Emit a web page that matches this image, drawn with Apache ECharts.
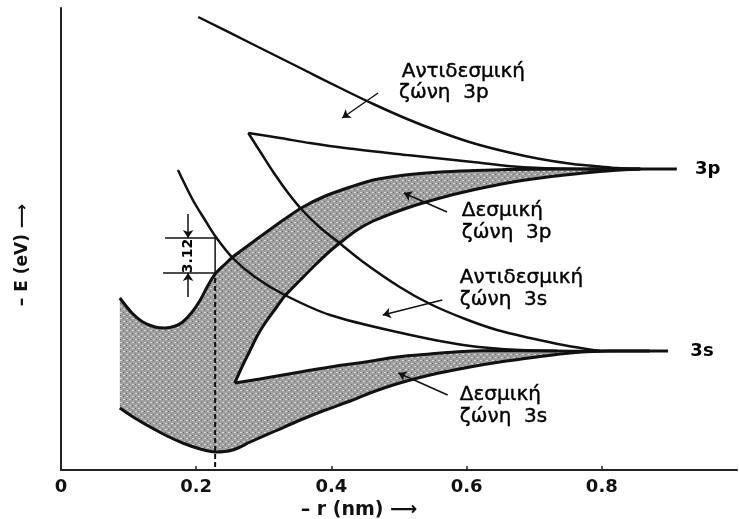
<!DOCTYPE html>
<html>
<head>
<meta charset="utf-8">
<script src="https://cdn.jsdelivr.net/npm/echarts@6/dist/echarts.min.js"></script>
<style>html,body{margin:0;padding:0;background:#fff;}#c{width:739px;height:519px;}</style>
</head>
<body>
<div id="c"></div>
<script>
// ---- axis ticks ----
const xTicks = [0, 0.2, 0.4, 0.6, 0.8];
const xTickLabels = ['0', '0.2', '0.4', '0.6', '0.8'];
const xMinorTicks = [0.2, 0.4, 0.6, 0.8];

// ---- curves: [r (nm), -E (arbitrary units)] ----
const antibonding3pTop = [[0.203,453],[0.280,427],[0.354,402],[0.413,382],[0.462,366],[0.512,351],[0.561,338],[0.609,327],[0.660,318],[0.709,311],[0.757,306],[0.797,303.5],[0.822,302],[0.857,301]];
const triangleTop = [[0.277,337],[0.324,332],[0.368,327],[0.420,322],[0.512,315],[0.609,308],[0.660,304],[0.709,302],[0.797,301]];
const antibonding3sUpper = [[0.277,337],[0.295,318],[0.314,298],[0.336,277],[0.358,259],[0.384,242],[0.410,228],[0.447,208],[0.501,183],[0.546,166],[0.598,151],[0.645,140],[0.694,132],[0.743,125],[0.797,119]];
const antibonding3sLower = [[0.173,300],[0.195,270],[0.213,250],[0.228,234],[0.254,212],[0.287,193],[0.331,175],[0.398,155],[0.497,138],[0.595,125],[0.679,120],[0.797,119]];
const bonding3pUpper = [[0.087,172],[0.105,157],[0.121,148],[0.139,143],[0.154,142],[0.169,144],[0.180,148],[0.194,158],[0.206,170],[0.217,184],[0.228,196],[0.243,206],[0.254,213],[0.294,233],[0.331,251],[0.358,263],[0.391,274],[0.428,283],[0.462,290],[0.509,295],[0.561,298],[0.612,299.5],[0.660,300.5],[0.740,301],[0.857,301]];
const bonding3pLower = [[0.257,87],[0.269,105],[0.280,120],[0.291,135],[0.305,150],[0.318,162],[0.331,174],[0.354,190],[0.376,205],[0.398,219],[0.420,231],[0.438,240],[0.462,249],[0.512,262],[0.561,272],[0.609,280],[0.660,287],[0.709,292],[0.760,296],[0.808,299],[0.857,301]];
const bonding3sUpper = [[0.257,87],[0.294,91],[0.354,98],[0.398,103],[0.450,108],[0.497,113],[0.546,116],[0.595,118.5],[0.649,119.5],[0.734,119]];
const bonding3sLower = [[0.087,62],[0.109,52],[0.132,43],[0.157,34],[0.180,27],[0.206,21],[0.228,18],[0.254,20],[0.280,28],[0.317,39],[0.354,50],[0.391,60],[0.428,69],[0.457,77],[0.501,87],[0.546,95],[0.605,103],[0.649,108],[0.704,113],[0.753,117],[0.812,119],[0.871,119]];
const level3p = [[0.780,301],[0.911,301]];
const level3s = [[0.780,119],[0.898,119]];

// equilibrium distance and the 3.12 eV marker
const r0Line = [[0.228,192],[0.228,1]];
const dimTopTick = [[0.154,232],[0.228,232]];
const dimBottomTick = [[0.151,197],[0.228,197]];
const dimVertical = [[0.228,232],[0.228,197]];
const dimArrows = [[[0.188,256],[0.188,232]], [[0.188,173],[0.188,197]]];
const dimLabel = {name: '3.12', value: [0.188, 214]};

// pointer arrows of the labels
const pointerArrows = [
  [[0.469,377],[0.416,352]],
  [[0.571,258],[0.507,277]],
  [[0.564,170],[0.476,155]],
  [[0.572,75],[0.499,97]]
];
const bandLabels = [
  {name: 'Αντιδεσμική', value: [0.504, 398]},
  {name: 'ζώνη  3p', value: [0.500, 377]},
  {name: 'Δεσμική', value: [0.593, 259]},
  {name: 'ζώνη  3p', value: [0.593, 237]},
  {name: 'Αντιδεσμική', value: [0.590, 192]},
  {name: 'ζώνη  3s', value: [0.590, 170]},
  {name: 'Δεσμική', value: [0.590, 75]},
  {name: 'ζώνη  3s', value: [0.590, 53]}
];
const levelLabels = [
  {name: '3p', value: [0.938, 301]},
  {name: '3s', value: [0.931, 119]}
];

// shaded bonding-band region built from the band edges
const shadePoly = bonding3pUpper
  .concat(bonding3pLower.slice().reverse())
  .concat(bonding3sUpper)
  .concat(bonding3sLower.slice().reverse());

// halftone pattern
const pc = document.createElement('canvas');
pc.width = 6; pc.height = 6;
const g = pc.getContext('2d');
g.fillStyle = '#9f9f9f'; g.fillRect(0,0,6,6);
g.fillStyle = '#d8d8d8'; g.fillRect(0,0,2,1); g.fillRect(3,3,2,1);
g.fillStyle = '#666'; g.fillRect(3,0,1,1); g.fillRect(0,3,1,1);

const chart = echarts.init(document.getElementById('c'), null, {renderer: 'canvas'});
const black = '#111';
function curve(data, w) {
  return {type: 'line', data: data, symbol: 'none', smooth: 0.3, silent: true, z: 3,
    lineStyle: {color: black, width: w || 2.5}};
}
function straight(data, w, type) {
  return {type: 'line', data: data, symbol: 'none', smooth: false, silent: true, z: 3,
    lineStyle: {color: black, width: w || 1.5, type: type || 'solid'}};
}
function textSeries(data, font) {
  return {type: 'scatter', data: data, symbolSize: 0, silent: true, z: 5,
    itemStyle: {opacity: 1},
    label: Object.assign({show: true, position: 'inside', align: 'left', verticalAlign: 'middle', formatter: '{b}',
      color: '#000', opacity: 1, fontFamily: 'DejaVu Sans'}, font)};
}

chart.setOption({
  animation: false,
  backgroundColor: '#fff',
  textStyle: {fontFamily: 'DejaVu Sans'},
  grid: {left: 61, right: 2, top: 8, bottom: 49, containLabel: false, outerBoundsMode: 'none'},
  xAxis: {
    type: 'value', min: 0, max: 1,
    axisLine: {show: true, onZero: false, lineStyle: {color: '#222', width: 2}},
    axisTick: {show: true, inside: true, length: 4, customValues: xMinorTicks, lineStyle: {color: '#222', width: 1.5}},
    axisLabel: {customValues: xTicks, margin: 8, fontSize: 18, fontWeight: 'bold', color: '#111',
      formatter: function (v) {
        for (let i = 0; i < xTicks.length; i++) if (Math.abs(xTicks[i] - v) < 1e-9) return xTickLabels[i];
        return '';
      }},
    splitLine: {show: false},
    name: '– r (nm) ⟶', nameLocation: 'middle', nameGap: 31,
    nameTextStyle: {fontSize: 19, fontWeight: 'bold', color: '#111', padding: [0, 80, 0, 0]}
  },
  yAxis: {
    type: 'value', min: 0, max: 462,
    axisLine: {show: true, lineStyle: {color: '#222', width: 2}},
    axisTick: {show: false}, axisLabel: {show: false}, splitLine: {show: false},
    name: '– E (eV) ⟶', nameLocation: 'middle', nameGap: 30,
    nameTextStyle: {fontSize: 17, fontWeight: 'bold', color: '#111', padding: [0, 32, 0, 0]}
  },
  series: [
    {type: 'custom', coordinateSystem: 'cartesian2d', data: [[0, 0]], silent: true, z: 1, clip: false,
      renderItem: function (params, api) {
        return {type: 'polygon', shape: {points: shadePoly.map(function (p) { return api.coord(p); })},
          style: {fill: {image: pc, repeat: 'repeat'}, stroke: null}};
      }},
    curve(antibonding3pTop),
    curve(triangleTop),
    curve(antibonding3sUpper),
    curve(antibonding3sLower),
    curve(bonding3pUpper, 3),
    curve(bonding3pLower, 3),
    curve(bonding3sUpper, 3),
    curve(bonding3sLower, 3),
    straight(level3p, 3),
    straight(level3s, 3),
    straight(r0Line, 2, [5, 3]),
    straight(dimTopTick, 1.5),
    straight(dimBottomTick, 1.5),
    straight(dimVertical, 1.5),
    {type: 'lines', coordinateSystem: 'cartesian2d', silent: true, z: 4,
      symbol: ['none', 'arrow'], symbolSize: 8,
      lineStyle: {color: black, width: 1.5, opacity: 1},
      data: dimArrows.concat(pointerArrows).map(function (c) { return {coords: c}; })},
    textSeries(bandLabels, {fontSize: 20, textBorderColor: '#000', textBorderWidth: 0.4}),
    textSeries(levelLabels, {fontSize: 18, fontWeight: 'bold'}),
    textSeries([dimLabel], {fontSize: 14, fontWeight: 'bold', rotate: 90, align: 'center'})
  ]
});
</script>
</body>
</html>
